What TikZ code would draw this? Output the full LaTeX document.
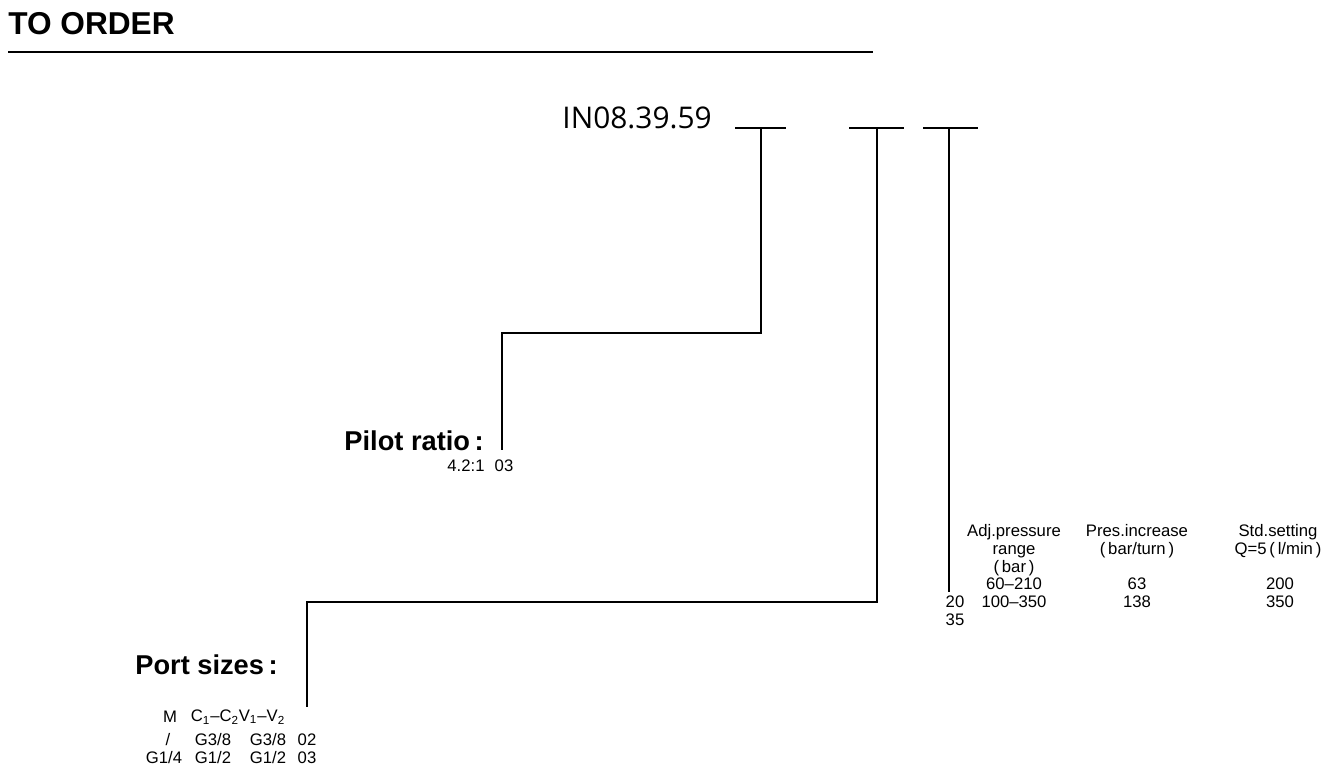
\documentclass[tikz,border=0pt]{standalone}
\usepackage{fontspec}
\setmainfont{Liberation Sans}
\newfontfamily\codefont{Open Sans}
\begin{document}
\begin{tikzpicture}[x=0.02cm,y=-0.02cm]
        \tikzstyle{txt} = [inner sep=0pt, font=\fontsize{9.5}{10.2}\selectfont]
        \tikzstyle{head} = [inner sep=0pt, font=\bfseries\fontsize{15.5}{17}\selectfont]
        \tikzstyle{blank} = [line width=0.9pt]
        \tikzstyle{lead} = [line width=1.1pt]
        \useasboundingbox (0,0) rectangle (1338,774);
        \node[anchor=west, inner sep=0pt, font=\bfseries\fontsize{18}{20}\selectfont] (title) at (8,24) {TO ORDER};
        \draw[line width=0.6pt] (8,52) -- (873,52);
        \node[anchor=east, inner sep=0pt, font=\codefont\fontsize{17}{19}\selectfont] (code) at (712,118) {IN08.39.59};
        % code blanks
        \draw[blank] (735,128) -- (786,128);
        \draw[blank] (849,128) -- (904,128);
        \draw[blank] (923,128) -- (978,128);
        \coordinate (b1) at (761,128);
        \coordinate (b2) at (877,128);
        \coordinate (b3) at (949,128);
        % pilot ratio
        \node[head, anchor=east] (pilot) at (484,441) {Pilot ratio\,:};
        \node[txt] (p1) at (466,466) {4.2:1};
        \node[txt] (p2) at (504,466) {03};
        \coordinate (pe) at (502,450);
        \draw[lead] (b1) |- (502,333) -- (pe);
        % port sizes
        \node[head, anchor=east] (port) at (278,665) {Port sizes\,:};
        \node[txt] (m0) at (170,717) {M};
        \node[txt] (c0) at (215,717) {C\textsubscript{1}--C\textsubscript{2}};
        \node[txt] (v0) at (262,717) {V\textsubscript{1}--V\textsubscript{2}};
        \node[txt] (m1) at (168,740) {/};
        \node[txt] (c1) at (213,740) {G3/8};
        \node[txt] (v1) at (268,740) {G3/8};
        \node[txt] (s1) at (307,740) {02};
        \node[txt] (m2) at (164,758) {G1/4};
        \node[txt] (c2) at (213,758) {G1/2};
        \node[txt] (v2) at (268,758) {G1/2};
        \node[txt] (s2) at (307,758) {03};
        \coordinate (pse) at (307,707);
        \draw[lead] (b2) |- (307,602) -- (pse);
        % pressure setting
        \node[txt, align=center, anchor=north] (h1) at (1014,524) {Adj.pressure\\range\\(\,bar\,)};
        \node[txt, align=center, anchor=north] (h2) at (1137,524) {Pres.increase\\(\,bar/turn\,)};
        \node[txt, align=center, anchor=north] (h3) at (1278,524) {Std.setting\\Q=5\,(\,l/min\,)};
        \node[txt] (r1a) at (1014,584) {60--210};
        \node[txt] (r1b) at (1137,584) {63};
        \node[txt] (r1c) at (1280,584) {200};
        \node[txt] (k1) at (955,602) {20};
        \node[txt] (r2a) at (1014,602) {100--350};
        \node[txt] (r2b) at (1137,602) {138};
        \node[txt] (r2c) at (1280,602) {350};
        \node[txt] (k2) at (955,620) {35};
        \draw[lead] (b3) -- (949,592);
    \end{tikzpicture}
\end{document}
